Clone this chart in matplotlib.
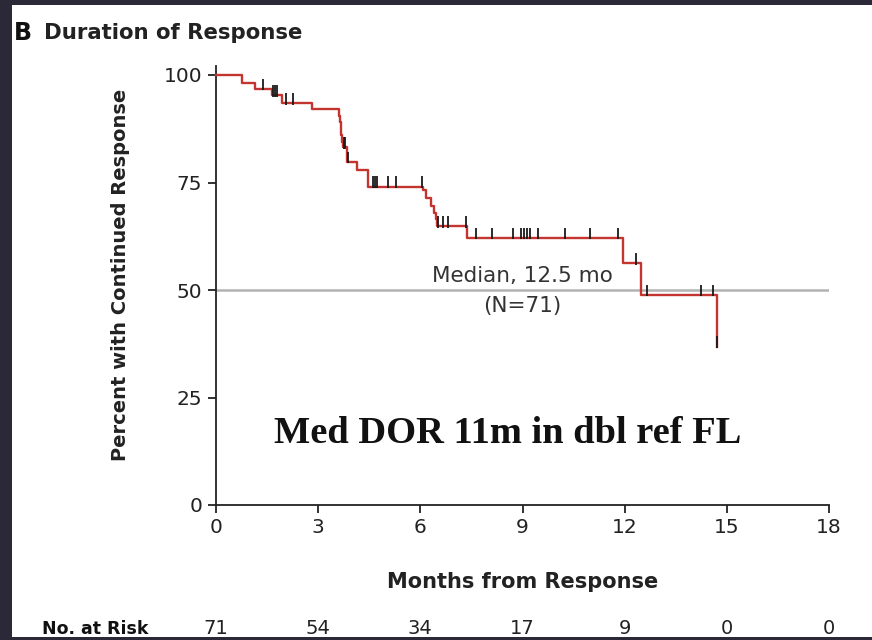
import numpy as np
import matplotlib.pyplot as plt
from matplotlib.patches import Rectangle

# Kaplan-Meier steps: time (months) and percent still responding after each drop
step_times = [0, 0.77, 1.15, 1.63, 1.93, 2.81, 3.62, 3.64, 3.66, 3.68, 3.70, 3.72,
              3.84, 4.13, 4.47, 6.09, 6.17, 6.30, 6.40, 6.46, 6.50, 7.38, 11.94,
              12.47, 14.70]
step_surv = [100, 98.1, 96.7, 95.3, 93.4, 92.0, 90.5, 89.0, 87.5, 86.0, 84.5, 83.2,
             79.8, 77.9, 74.0, 73.3, 71.3, 69.5, 68.0, 66.4, 64.8, 62.1, 56.2,
             48.8, 36.8]
# censored patients (months)
censor_times = [1.39, 1.66, 1.72, 1.80, 2.07, 2.27, 3.76, 3.80, 3.88, 4.62, 4.67,
                4.72, 5.06, 5.30, 6.04, 6.52, 6.66, 6.80, 7.34, 7.63, 8.09, 8.73,
                8.97, 9.05, 9.13, 9.22, 9.46, 10.25, 10.98, 11.81, 12.33, 12.65,
                14.23, 14.60, 14.72]
risk_months = [0, 3, 6, 9, 12, 15, 18]
no_at_risk = [71, 54, 34, 17, 9, 0, 0]
median_pct = 50

dark = '#2b2937'
fig = plt.figure(figsize=(8.72, 6.4), dpi=100, facecolor=dark)
fig.patches.append(Rectangle((12 / 872, 3 / 640), 1, 632 / 640, transform=fig.transFigure,
                             facecolor='white', edgecolor='none', zorder=-1))

ax = fig.add_axes([216 / 872, 135 / 640, 613 / 872, 430 / 640])
ax.set_facecolor('none')

ax.axhline(median_pct, color='#b3b3b3', lw=1.8, zorder=1)
ax.step(step_times + [14.72], step_surv + [step_surv[-1]], where='post',
        color='#c4352f', lw=1.7, zorder=3, clip_on=False)

# censor ticks sit on the curve
idx = np.searchsorted(step_times, censor_times, side='right') - 1
levels = np.array(step_surv)[idx]
ax.vlines(censor_times, levels - 0.3, levels + 2.4, color='#1a1a1a', lw=1.3, zorder=4)

ax.set_xlim(0, 18)
ax.set_ylim(0, 100)
ax.set_xticks(risk_months)
ax.set_yticks([0, 25, 50, 75, 100])
for s in ['top', 'right']:
    ax.spines[s].set_visible(False)
for s in ['left', 'bottom']:
    ax.spines[s].set_linewidth(1.3)
    ax.spines[s].set_color('#222222')
ax.spines['left'].set_bounds(0, 102)
ax.tick_params(axis='both', direction='out', length=6, width=1.3, color='#222222',
               labelsize=14.5, labelcolor='#222222')
ax.tick_params(axis='y', pad=4)

ax.text(9, 50.9, 'Median, 12.5 mo', ha='center', va='bottom', fontsize=15.5, color='#333333')
ax.text(9, 48.6, '(N=71)', ha='center', va='top', fontsize=15.5, color='#333333')
ax.text(8.57, 14.4, 'Med DOR 11m in dbl ref FL', ha='center', va='baseline',
        fontsize=27.7, fontweight='bold', family='Liberation Serif', color='#111111')

ax.set_ylabel('Percent with Continued Response', fontsize=14, fontweight='bold',
              color='#222222')
ax.yaxis.set_label_coords(-0.14, 0.535)
ax.set_xlabel('Months from Response', fontsize=15, fontweight='bold',
              color='#222222', labelpad=25)

fig.text(14 / 872, 1 - 33 / 640, 'B', fontsize=17, fontweight='bold', va='center', color='#111111')
fig.text(44 / 872, 1 - 33 / 640, 'Duration of Response', fontsize=15.3, fontweight='bold',
         va='center', color='#222222')

fig.text(42 / 872, 1 - 629 / 640, 'No. at Risk', fontsize=12.5, fontweight='bold',
         va='center', color='#111111')
for m, n in zip(risk_months, no_at_risk):
    x_fig = (216 + m / 18 * 613) / 872
    fig.text(x_fig, 1 - 629 / 640, str(n), fontsize=14, ha='center', va='center', color='#222222')

# dark strip along the bottom edge
fig.patches.append(Rectangle((0, 0), 1, 3 / 640, transform=fig.transFigure,
                             facecolor=dark, edgecolor='none', zorder=10))

fig.savefig('out.png', dpi=100, facecolor=dark)
